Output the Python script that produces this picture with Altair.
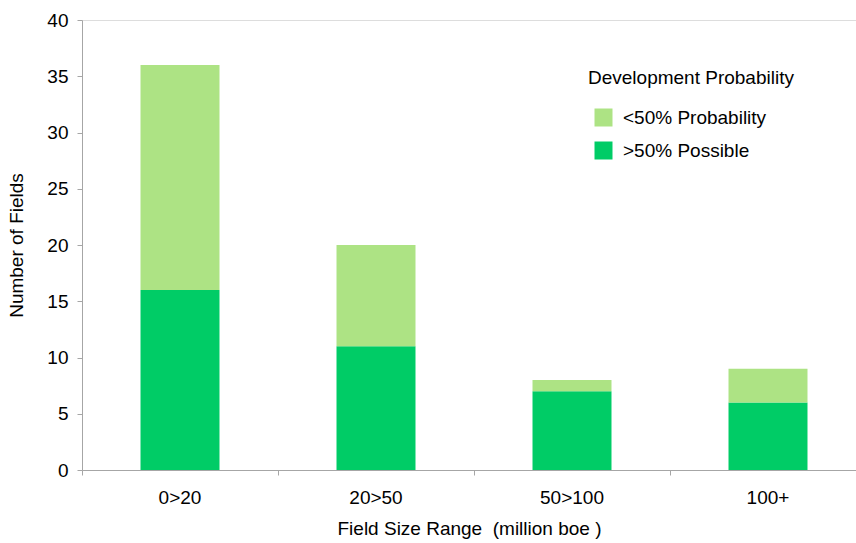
import altair as alt
import pandas as pd

categories = ["0>20", "20>50", "50>100", "100+"]
possible = [16, 11, 7, 6]          # >50% Possible
probability = [20, 9, 1, 3]        # <50% Probability
series = ["<50% Probability", ">50% Possible"]
colors = ["#ADE384", "#00CC66"]

rows = []
for cat, p, q in zip(categories, possible, probability):
    rows.append({"range": cat, "series": ">50% Possible", "count": p, "order": 0})
    rows.append({"range": cat, "series": "<50% Probability", "count": q, "order": 1})
df = pd.DataFrame(rows)

font = "Liberation Sans"
fs = 19
axis_gray = "#A6A6A6"

chart = alt.Chart(df).mark_bar(width=alt.RelativeBandSize(0.403)).encode(
    x=alt.X("range:N", sort=categories,
            scale=alt.Scale(paddingInner=0, paddingOuter=0, range=[0, 784]),
            axis=alt.Axis(title="Field Size Range \u00a0(million boe )", labelAngle=0,
                          bandPosition=0, tickSize=5, labelPadding=13,
                          titlePadding=12, titleX=387, domainColor=axis_gray,
                          tickColor=axis_gray,
                          labelFont=font, labelFontSize=fs, labelColor="#000",
                          titleFont=font, titleFontSize=fs, titleFontWeight="normal",
                          titleColor="#000", grid=False)),
    y=alt.Y("count:Q", stack="zero",
            scale=alt.Scale(domain=[0, 40], nice=False),
            axis=alt.Axis(title="Number of Fields", values=list(range(0, 41, 5)),
                          tickSize=5, labelPadding=9, titlePadding=20,
                          domainColor=axis_gray, tickColor=axis_gray,
                          labelFont=font, labelFontSize=fs, labelColor="#000",
                          titleFont=font, titleFontSize=fs, titleFontWeight="normal",
                          titleColor="#000", grid=False)),
    color=alt.Color("series:N", scale=alt.Scale(domain=series, range=colors),
                    legend=alt.Legend(title="Development Probability", orient="none",
                                      legendX=506, legendY=49, symbolType="square",
                                      symbolSize=324, symbolStrokeWidth=0,
                                      symbolOffset=6, titleLimit=400, labelLimit=400,
                                      rowPadding=13, titlePadding=20,
                                      labelFont=font, labelFontSize=fs, labelColor="#000",
                                      titleFont=font, titleFontSize=fs,
                                      titleFontWeight="normal", titleColor="#000",
                                      labelOffset=10)),
    order=alt.Order("order:Q"),
).properties(
    width=774, height=450,
    autosize=alt.AutoSizeParams(type="none"),
    padding={"left": 82, "top": 20, "right": 0, "bottom": 73},
).configure_view(stroke=None).configure(background="white")

chart.save("out.html", embed_options={"renderer": "svg", "actions": False})
